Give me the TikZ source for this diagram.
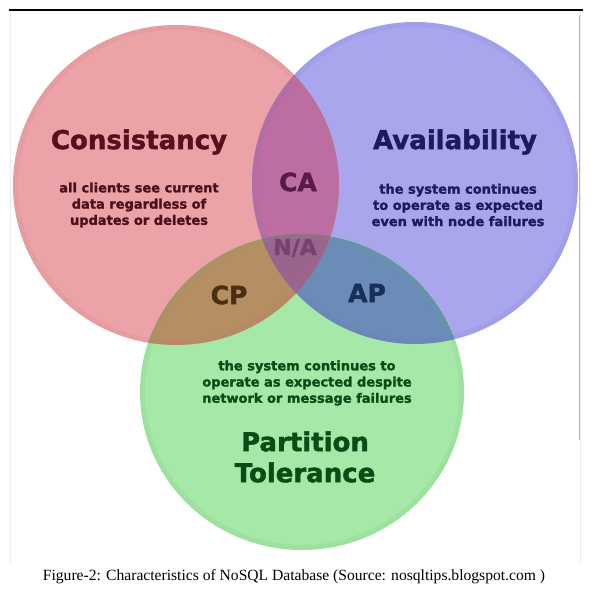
\documentclass[tikz,border=0pt]{standalone}
\usepackage{fontspec}
\setmainfont{Liberation Serif}
\newfontfamily\dv{DejaVu Sans}[BoldFeatures={FakeBold=1.6}]
\definecolor{cred}{RGB}{236,163,168}
\definecolor{cblue}{RGB}{169,166,238}
\definecolor{cgreen}{RGB}{166,232,168}
\definecolor{zoneca}{RGB}{188,110,162}
\definecolor{zonecp}{RGB}{182,142,100}
\definecolor{zoneap}{RGB}{106,140,182}
\definecolor{zonena}{RGB}{155,100,140}
\definecolor{rimred}{RGB}{190,110,120}
\definecolor{rimblue}{RGB}{120,115,200}
\definecolor{rimgreen}{RGB}{100,180,105}
\definecolor{tred}{RGB}{90,15,30}
\definecolor{tredsm}{RGB}{75,15,30}
\definecolor{tblue}{RGB}{30,26,92}
\definecolor{tca}{RGB}{90,26,70}
\definecolor{tna}{RGB}{120,65,110}
\definecolor{tcp}{RGB}{74,48,16}
\definecolor{tap}{RGB}{26,46,90}
\definecolor{tgreen}{RGB}{12,74,22}
\begin{document}
\begin{tikzpicture}[x=1pt,y=-1pt,
  title/.style={font=\dv\bfseries\fontsize{26}{32}\selectfont, align=center, inner sep=0pt},
  small/.style={font=\dv\bfseries\fontsize{13}{16.2}\selectfont, align=center, inner sep=0pt},
  zone/.style={font=\dv\bfseries\fontsize{25}{30}\selectfont, inner sep=0pt},
  rim/.style={line width=10pt, opacity=0.13}]
\useasboundingbox (0,0) rectangle (594,594);
\fill[white] (0,0) rectangle (594,594);
% frame lines
\draw[line width=1.2pt, black] (9,10) -- (583,10);
\draw[gray!15, line width=0.8pt] (10,12) -- (10,563);
\draw[gray!15, line width=0.8pt] (580,12) -- (580,563);
\draw[gray!55, line width=0.8pt] (579.5,15) -- (579.5,440);
% base circles
\fill[cred] (176,185) ellipse[x radius=163pt, y radius=160pt];
\fill[cblue] (415,183) ellipse[x radius=163pt, y radius=161pt];
\fill[cgreen] (302,392) ellipse[x radius=162pt, y radius=158pt];
% overlaps
\begin{scope}
  \clip (176,185) ellipse[x radius=163pt, y radius=160pt];
  \fill[zoneca] (415,183) ellipse[x radius=163pt, y radius=161pt];
  \fill[zonecp] (302,392) ellipse[x radius=162pt, y radius=158pt];
\end{scope}
\begin{scope}
  \clip (415,183) ellipse[x radius=163pt, y radius=161pt];
  \clip (302,392) ellipse[x radius=162pt, y radius=158pt];
  \fill[zoneap] (302,392) ellipse[x radius=162pt, y radius=158pt];
\end{scope}
\begin{scope}
  \clip (176,185) ellipse[x radius=163pt, y radius=160pt];
  \clip (415,183) ellipse[x radius=163pt, y radius=161pt];
  \clip (302,392) ellipse[x radius=162pt, y radius=158pt];
  \fill[zonena] (302,392) ellipse[x radius=162pt, y radius=158pt];
\end{scope}
% soft rims
\begin{scope}
  \clip (176,185) ellipse[x radius=163pt, y radius=160pt];
  \draw[rim, rimred] (176,185) ellipse[x radius=163pt, y radius=160pt];
\end{scope}
\begin{scope}
  \clip (415,183) ellipse[x radius=163pt, y radius=161pt];
  \draw[rim, rimblue] (415,183) ellipse[x radius=163pt, y radius=161pt];
\end{scope}
\begin{scope}
  \clip (302,392) ellipse[x radius=162pt, y radius=158pt];
  \draw[rim, rimgreen] (302,392) ellipse[x radius=162pt, y radius=158pt];
\end{scope}
% texts
\node[title, text=tred] (cons) at (139,142) {Consistancy};
\node[small, text=tredsm] (consd) at (139,205) {all clients see current\\data regardless of\\updates or deletes};
\node[title, text=tblue] (avail) at (455,142) {Availability};
\node[small, text=tblue] (availd) at (458,205) {the system continues\\to operate as expected\\even with node failures};
\node[zone, text=tca] (ca) at (298,182) {CA};
\node[zone, text=tna, font=\dv\bfseries\fontsize{22}{26}\selectfont] (na) at (295,248) {N/A};
\node[zone, text=tcp] (cp) at (229,295) {CP};
\node[zone, text=tap] (ap) at (367,293) {AP};
\node[small, text=tgreen] (partd) at (307,383) {the system continues to\\operate as expected despite\\network or message failures};
\node[title, text=tgreen, font=\dv\bfseries\fontsize{26}{31}\selectfont] (part) at (305,457) {Partition\\Tolerance};
\node[inner sep=0pt, font=\fontsize{15.6}{18}\selectfont] (caption) at (294,577) {Figure-2: Characteristics of NoSQL Database (Source: nosqltips.blogspot.com )};
\end{tikzpicture}
\end{document}
